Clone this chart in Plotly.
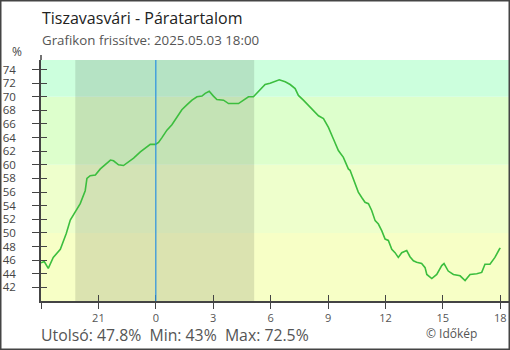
import plotly.graph_objects as go

# ---- data (hours relative to midnight of 2025-05-03; negative = previous evening) ----
hours = [-6.00, -5.83, -5.62, -5.36, -4.99, -4.68, -4.47, -4.26, -3.95, -3.69, -3.60,
         -3.43, -3.16, -2.90, -2.64, -2.37, -2.21, -1.95, -1.69, -1.43, -1.16, -0.81,
         -0.55, -0.29, -0.02, 0.14, 0.32, 0.58, 0.84, 1.10, 1.36, 1.62, 1.89, 2.15,
         2.41, 2.58, 2.79, 3.01, 3.19, 3.54, 3.80, 4.32, 4.58, 4.84, 5.10, 5.45, 5.71,
         5.97, 6.24, 6.45, 6.76, 7.02, 7.28, 7.45, 7.71, 7.97, 8.23, 8.50, 8.76, 9.02,
         9.28, 9.54, 9.80, 10.06, 10.15, 10.32, 10.58, 10.76, 10.93, 11.11, 11.28, 11.46,
         11.63, 11.81, 11.98, 12.15, 12.33, 12.50, 12.67, 12.85, 13.11, 13.28, 13.46,
         13.63, 13.89, 14.07, 14.16, 14.42, 14.68, 14.94, 15.06, 15.28, 15.55, 15.90,
         16.16, 16.42, 16.77, 17.03, 17.20, 17.46, 17.72, 17.95, 18.00]
humidity = [45.6, 45.8, 44.8, 46.4, 47.6, 49.9, 51.9, 52.8, 54.3, 56.2, 58.0,
            58.4, 58.5, 59.4, 60.05, 60.7, 60.6, 60.0, 59.9, 60.4, 61.0, 61.9,
            62.5, 63.0, 63.0, 63.3, 64.0, 65.1, 65.9, 67.1, 68.1, 68.8, 69.5, 70.0,
            70.1, 70.5, 70.8, 70.1, 69.6, 69.5, 69.0, 69.0, 69.5, 70.0, 70.0, 71.1, 71.8,
            72.0, 72.3, 72.5, 72.2, 71.8, 71.2, 70.2, 69.5, 68.7, 67.9, 67.2, 66.8, 65.5,
            63.8, 62.1, 61.1, 59.4, 59.2, 57.8, 56.0, 55.2, 54.5, 54.3, 53.3, 51.8,
            51.3, 50.3, 49.1, 48.9, 47.6, 47.1, 46.4, 47.1, 47.4, 46.5, 45.9,
            45.7, 45.5, 44.9, 43.9, 43.3, 43.9, 45.2, 45.5, 44.4, 43.9, 43.7,
            43.0, 43.9, 44.0, 44.2, 45.4, 45.4, 46.4, 47.6, 47.8]

x_tickvals = [-6, -3, 0, 3, 6, 9, 12, 15, 18]
x_ticktext = ["", "21", "0", "3", "6", "9", "12", "15", "18"]
y_tickvals = list(range(42, 76, 2))

band_edges = [40, 50, 60, 70, 75.4]
band_colors = ["#f7ffc6", "#eeffcc", "#ddffcc", "#ccffdd"]
night_start, night_end = -4.21, 5.14   # sunset / sunrise
midnight = 0

title = "Tiszavasvári - Páratartalom"
subtitle = "Grafikon frissítve: 2025.05.03 18:00"
footer = "Utolsó: 47.8%  Min: 43%  Max: 72.5%"
credit = "© Időkép"

x_range = [-6, 18.455]
y_range = [40, 75.4]

W, H = 510, 350
ML, MR, MT, MB = 41, 1, 60, 49
PW, PH = W - ML - MR, H - MT - MB

FONT = "Open Sans"
AXC = "#444444"

fig = go.Figure()
fig.add_trace(go.Scatter(x=hours, y=humidity, mode="lines",
                         line=dict(color="#3cbe3e", width=1.6),
                         hoverinfo="skip", showlegend=False))
# dummy trace to activate overlay axes (inside ticks)
fig.add_trace(go.Scatter(x=[None], y=[None], xaxis="x2", yaxis="y2",
                         showlegend=False, hoverinfo="skip"))

for i, c in enumerate(band_colors):
    fig.add_hrect(y0=band_edges[i], y1=band_edges[i + 1], fillcolor=c,
                  line_width=0, layer="below")
fig.add_vrect(x0=night_start, x1=night_end, fillcolor="rgba(0,0,0,0.11)",
              line_width=0, layer="below")
fig.add_vline(x=midnight, line=dict(color="#2a90e0", width=1.2))

# outer frame
fig.add_shape(type="rect", xref="paper", yref="paper",
              x0=-ML / PW, x1=1 + MR / PW, y0=-MB / PH, y1=1 + MT / PH,
              line=dict(color="#444444", width=3))
# y axis line extension above the plot
fig.add_shape(type="line", xref="paper", yref="paper", x0=0, x1=0,
              y0=1, y1=1 + 5 / PH, line=dict(color=AXC, width=1.5))

axis_common = dict(showgrid=False, zeroline=False, showline=True,
                   linecolor=AXC, linewidth=1.5, tickcolor=AXC, tickwidth=1.3,
                   tickmode="array")

fig.update_layout(
    width=W, height=H,
    margin=dict(l=ML, r=MR, t=MT, b=MB, pad=0),
    paper_bgcolor="white", plot_bgcolor="white",
    font=dict(family=FONT, color="#444444", size=11),
    xaxis=dict(range=x_range, tickvals=x_tickvals, ticktext=x_ticktext,
               ticks="outside", ticklen=6, tickfont=dict(size=11, color="#555555"),
               **axis_common),
    yaxis=dict(range=y_range, tickvals=y_tickvals, ticks="outside", ticklen=7,
               tickfont=dict(size=11.5, color="#444444"), ticklabelstandoff=14,
               **axis_common),
    xaxis2=dict(range=x_range, tickvals=x_tickvals, ticks="inside", ticklen=6,
                overlaying="x", anchor="y2", side="bottom",
                showticklabels=False, **axis_common),
    yaxis2=dict(range=y_range, tickvals=y_tickvals, ticks="inside", ticklen=6,
                overlaying="y", anchor="x2", side="left",
                showticklabels=False, **axis_common),
    annotations=[
        dict(text=title, x=40 / W, y=1 - 18 / H, xref="paper", yref="paper",
             xanchor="left", yanchor="middle", showarrow=False,
             font=dict(size=16, color="#222222", family=FONT)),
        dict(text=subtitle, x=40 / W, y=1 - 40 / H, xref="paper", yref="paper",
             xanchor="left", yanchor="middle", showarrow=False,
             font=dict(size=13.3, color="#555555", family=FONT)),
        dict(text="%", x=17 / W, y=1 - 52 / H, xref="paper", yref="paper",
             xanchor="center", yanchor="middle", showarrow=False,
             font=dict(size=12, color="#444444", family=FONT)),
        dict(text=footer, x=39 / W, y=1 - 334.5 / H, xref="paper", yref="paper",
             xanchor="left", yanchor="middle", showarrow=False,
             font=dict(size=15.8, color="#555555", family=FONT)),
        dict(text=credit, x=424 / W, y=1 - 333 / H, xref="paper", yref="paper",
             xanchor="left", yanchor="middle", showarrow=False,
             font=dict(size=12, color="#555555", family=FONT)),
    ],
)
# convert annotation positions from full-figure fractions to paper (plot-area) fractions
for a in fig.layout.annotations:
    px = a.x * W
    py = (1 - a.y) * H
    a.x = (px - ML) / PW
    a.y = 1 - (py - MT) / PH

fig.write_html("out.html")
